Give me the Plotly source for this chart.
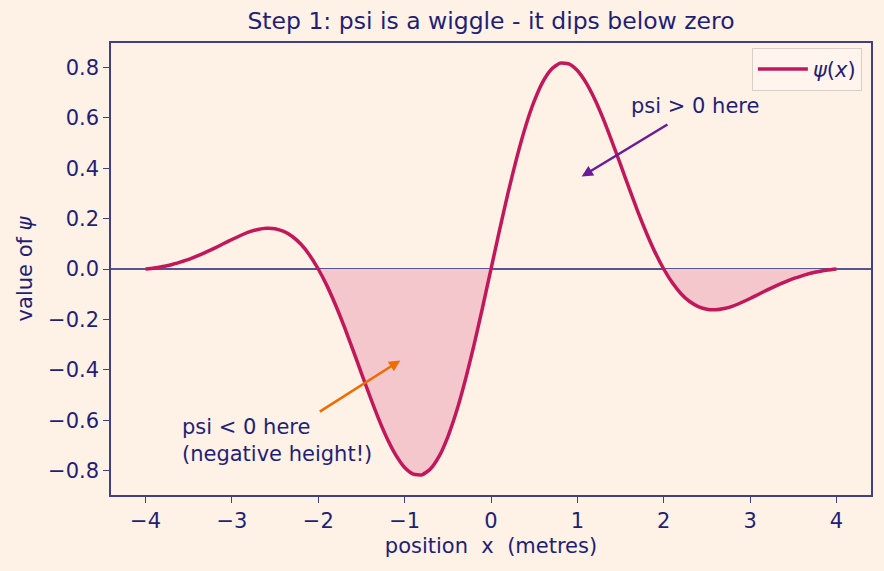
import plotly.graph_objects as go

# ---- data ----
x_pos = [-4.0, -3.9, -3.8, -3.7, -3.6, -3.5, -3.4, -3.3, -3.2, -3.1,
         -3.0, -2.9, -2.8, -2.7, -2.6, -2.5, -2.4, -2.3, -2.2, -2.1,
         -2.0, -1.9, -1.8, -1.7, -1.6, -1.5, -1.4, -1.3, -1.2, -1.1,
         -1.0, -0.9, -0.8, -0.7, -0.6, -0.5, -0.4, -0.3, -0.2, -0.1,
         0.0, 0.1, 0.2, 0.3, 0.4, 0.5, 0.6, 0.7, 0.8, 0.9,
         1.0, 1.1, 1.2, 1.3, 1.4, 1.5, 1.6, 1.7, 1.8, 1.9,
         2.0, 2.1, 2.2, 2.3, 2.4, 2.5, 2.6, 2.7, 2.8, 2.9,
         3.0, 3.1, 3.2, 3.3, 3.4, 3.5, 3.6, 3.7, 3.8, 3.9, 4.0]

psi = [0.000, 0.004, 0.010, 0.017, 0.027, 0.038, 0.052, 0.067, 0.083, 0.100,
       0.117, 0.133, 0.147, 0.157, 0.162, 0.160, 0.149, 0.129, 0.098, 0.055,
       0.000, -0.066, -0.143, -0.228, -0.320, -0.414, -0.507, -0.596, -0.675, -0.740,
       -0.788, -0.814, -0.817, -0.793, -0.743, -0.666, -0.566, -0.444, -0.306, -0.156,
       0.000, 0.156, 0.306, 0.444, 0.566, 0.666, 0.743, 0.793, 0.817, 0.814,
       0.788, 0.740, 0.675, 0.596, 0.507, 0.414, 0.320, 0.228, 0.143, 0.066,
       0.000, -0.055, -0.098, -0.129, -0.149, -0.160, -0.162, -0.157, -0.147, -0.133,
       -0.117, -0.100, -0.083, -0.067, -0.052, -0.038, -0.027, -0.017, -0.010, -0.004, 0.000]

x_ticks = [-4, -3, -2, -1, 0, 1, 2, 3, 4]
y_ticks = [-0.8, -0.6, -0.4, -0.2, 0.0, 0.2, 0.4, 0.6, 0.8]

# annotation anchor points (data units)
neg_text_xy = (-3.6, -0.68)
neg_arrow_head = (-1.05, -0.363)
neg_arrow_tail = (-2.0, -0.57)
pos_text_xy = (1.6, 0.645)
pos_arrow_head = (1.05, 0.367)
pos_arrow_tail = (2.06, 0.577)

# ---- styles ----
BG = "#FEF1E6"
NAVY = "#1F1F78"
FRAME = "#40408A"
CURVE = "#C2185B"
FILL = "#F4C7CC"
ORANGE = "#EF6C00"
PURPLE = "#6A1B9A"
FONT = "DejaVu Sans"
FS = 21

psi_neg = [min(v, 0.0) for v in psi]

fig = go.Figure()
fig.add_trace(go.Scatter(
    x=x_pos, y=psi_neg, mode="lines", fill="tozeroy",
    fillcolor=FILL, line=dict(width=0, color=FILL),
    showlegend=False, hoverinfo="skip"))
fig.add_trace(go.Scatter(
    x=x_pos, y=psi, mode="lines", name="<i>ψ</i>(<i>x</i>)",
    line=dict(color=CURVE, width=3.5, shape="spline", smoothing=0.6)))

# zero line
fig.add_shape(type="line", xref="paper", yref="y", x0=0, x1=1, y0=0, y1=0,
              line=dict(color=NAVY, width=1.3), layer="below")

annotations = [
    dict(x=neg_text_xy[0], y=neg_text_xy[1], xref="x", yref="y",
         text="psi &lt; 0 here<br>(negative height!)", showarrow=False,
         xanchor="left", yanchor="middle", align="left",
         font=dict(family=FONT, size=FS, color=NAVY)),
    dict(x=pos_text_xy[0], y=pos_text_xy[1], xref="x", yref="y",
         text="psi &gt; 0 here", showarrow=False,
         xanchor="left", yanchor="middle", align="left",
         font=dict(family=FONT, size=FS, color=NAVY)),
    dict(x=neg_arrow_head[0], y=neg_arrow_head[1], xref="x", yref="y",
         ax=neg_arrow_tail[0], ay=neg_arrow_tail[1], axref="x", ayref="y",
         text="", showarrow=True, arrowhead=2, arrowsize=0.9, arrowwidth=2.5,
         arrowcolor=ORANGE),
    dict(x=pos_arrow_head[0], y=pos_arrow_head[1], xref="x", yref="y",
         ax=pos_arrow_tail[0], ay=pos_arrow_tail[1], axref="x", ayref="y",
         text="", showarrow=True, arrowhead=2, arrowsize=0.9, arrowwidth=2.5,
         arrowcolor=PURPLE),
]

axis_common = dict(
    showline=True, linecolor=FRAME, linewidth=1.5, mirror=True,
    ticks="outside", ticklen=6, tickwidth=1.3, tickcolor=FRAME,
    showgrid=False, zeroline=False,
    tickfont=dict(family=FONT, size=FS, color=NAVY),
)

fig.update_layout(
    width=884, height=571,
    paper_bgcolor=BG, plot_bgcolor=BG,
    margin=dict(l=111, r=13, t=43, b=76),
    font=dict(family=FONT, color=NAVY),
    title=dict(text="Step 1: psi is a wiggle - it dips below zero",
               x=(111 + 871) / 2 / 884, xanchor="center",
               y=1 - 21 / 571, yanchor="middle",
               font=dict(family=FONT, size=23.5, color=NAVY)),
    xaxis=dict(range=[-4.4, 4.4], tickvals=x_ticks,
               title=dict(text="position\u00a0\u00a0x\u00a0\u00a0(metres)",
                          font=dict(family=FONT, size=FS, color=NAVY),
                          standoff=6),
               **axis_common),
    yaxis=dict(range=[-0.897, 0.897], tickvals=y_ticks, tickformat=".1f",
               title=dict(text="value of <i>ψ</i>",
                          font=dict(family=FONT, size=FS, color=NAVY),
                          standoff=10),
               **axis_common),
    legend=dict(x=0.988, y=0.989, xanchor="right", yanchor="top",
                bgcolor="rgba(255,246,238,0.85)", bordercolor="#D8D0C8",
                borderwidth=1, itemwidth=50,
                font=dict(family=FONT, size=FS, color=NAVY)),
    annotations=annotations,
    showlegend=True,
)

fig.write_html("out.html")
